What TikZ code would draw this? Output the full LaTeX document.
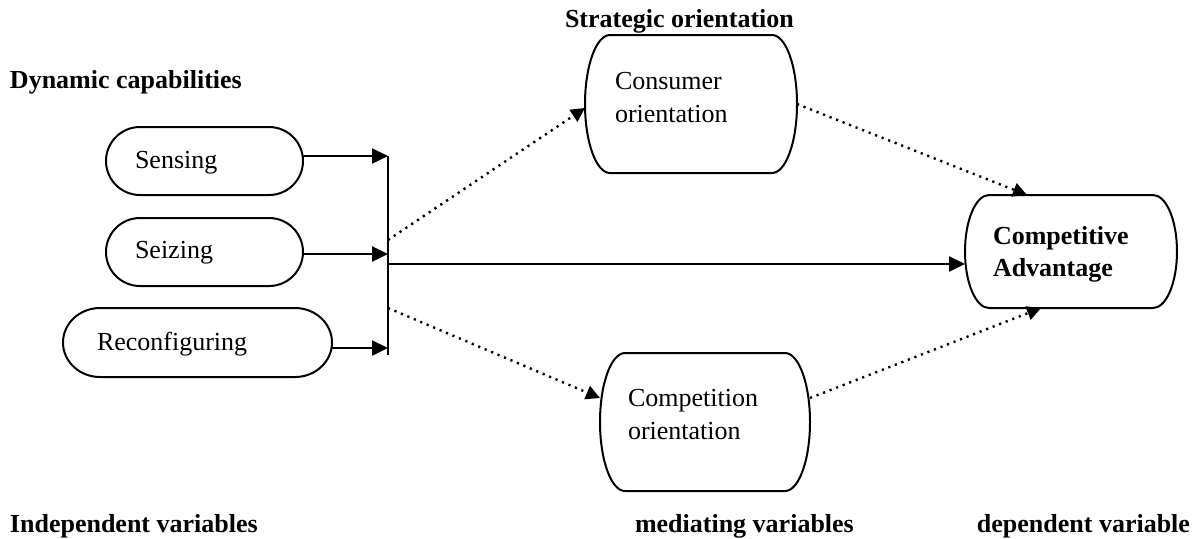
\documentclass[tikz,border=0pt]{standalone}
\usepackage{fontspec}
\setmainfont{Liberation Serif}
\usetikzlibrary{arrows.meta,calc}
\tikzset{
  boxline/.style={line width=1pt},
  holder/.style={draw=none, inner sep=0pt, outer sep=0pt, rectangle},
  txt/.style={inner sep=0pt, outer sep=0pt, font=\fontsize{13pt}{15pt}\selectfont},
  btxt/.style={txt, font=\fontsize{13pt}{15pt}\selectfont\bfseries},
  solidarrow/.style={line width=1.2pt, -{Triangle[length=8pt,width=7.5pt]}},
  dotarrow/.style={line width=1.2pt, dash pattern=on 1.1pt off 2.4pt, -{Triangle[length=7pt,width=7pt]}},
}
\newcommand\capsule[3]{%
  \draw[boxline] ([xshift=#2pt]#1.north west) -- ([xshift=-#2pt]#1.north east)
    arc[start angle=90, end angle=-90, x radius=#2pt, y radius=#3pt]
    -- ([xshift=#2pt]#1.south west)
    arc[start angle=270, end angle=90, x radius=#2pt, y radius=#3pt] -- cycle;}
\begin{document}
\begin{tikzpicture}[x=0.5pt, y=-0.5pt]
\useasboundingbox (0,0) rectangle (1194,538);
% box holders
\node[holder, minimum width=98.5pt, minimum height=34pt] (sensing) at (204.5,161) {};
\node[holder, minimum width=98.5pt, minimum height=34pt] (seizing) at (204.5,252) {};
\node[holder, minimum width=134.5pt, minimum height=34.5pt] (reconf) at (197.5,342.5) {};
\node[holder, minimum width=106pt, minimum height=69pt] (consumer) at (691,104) {};
\node[holder, minimum width=105pt, minimum height=69pt] (competition) at (705,422) {};
\node[holder, minimum width=106pt, minimum height=56.5pt] (ca) at (1071,251.5) {};
\capsule{sensing}{17}{17}
\capsule{seizing}{17}{17}
\capsule{reconf}{18.5}{17.25}
\capsule{consumer}{12.5}{34.5}
\capsule{competition}{12.5}{34.5}
\capsule{ca}{12}{28.25}
% texts in boxes
\node[txt, anchor=base west] (tsens) at (135,168) {Sensing};
\node[txt, anchor=base west] (tseiz) at (135,258) {Seizing};
\node[txt, anchor=base west] (trec) at (97,350) {Reconfiguring};
\node[txt, anchor=base west] (tcons1) at (615,89) {Consumer};
\node[txt, anchor=base west] (tcons2) at (615,122) {orientation};
\node[txt, anchor=base west] (tcomp1) at (628,406) {Competition};
\node[txt, anchor=base west] (tcomp2) at (628,439) {orientation};
\node[btxt, anchor=base west] (tca1) at (993,244) {Competitive};
\node[btxt, anchor=base west] (tca2) at (993,276) {Advantage};
% headings
\node[btxt, anchor=base west] (hdyn) at (10,88) {Dynamic capabilities};
\node[btxt, anchor=base west] (hstr) at (565,27) {Strategic orientation};
\node[btxt, anchor=base west] (hind) at (10,532) {Independent variables};
\node[btxt, anchor=base west] (hmed) at (635,532) {mediating variables};
\node[btxt, anchor=base east] (hdep) at (1190,532) {dependent variable};
% bar
\coordinate (barT) at (388,156);
\coordinate (barB) at (388,355);
\coordinate (b1) at (388,156);
\coordinate (b2) at (388,254);
\coordinate (b3) at (388,348);
\coordinate (bu) at (388,240);
\coordinate (bm) at (388,264);
\coordinate (bd) at (388,308);
\draw[line width=1.2pt] (barT) -- (barB);
\draw[solidarrow] (sensing.east |- b1) -- (b1);
\draw[solidarrow] (seizing.east |- b2) -- (b2);
\draw[solidarrow] (reconf.east |- b3) -- (b3);
\draw[solidarrow] (bm) -- (ca.west |- bm);
\draw[dotarrow] (bu) -- ([yshift=-2pt]consumer.west);
\draw[dotarrow] (bd) -- ([yshift=12pt]competition.west);
\draw[dotarrow] (consumer.east) -- ([xshift=-22pt]ca.north);
\draw[dotarrow] ([yshift=12pt]competition.east) -- ([xshift=-15pt]ca.south);
\end{tikzpicture}
\end{document}
